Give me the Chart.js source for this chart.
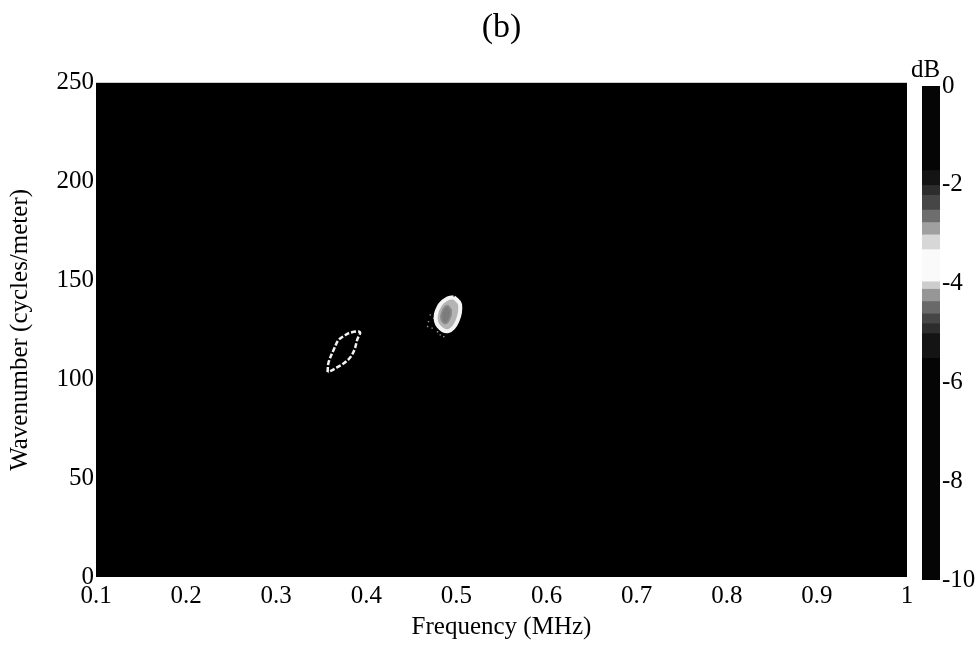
<!DOCTYPE html>
<html>
<head>
<meta charset="utf-8">
<script src="https://cdn.jsdelivr.net/npm/chart.js@4/dist/chart.umd.min.js"></script>
<style>
  body { margin:0; background:#fff; width:980px; height:649px; overflow:hidden; }
  #main { position:absolute; left:0; top:0; }
  #cbar { position:absolute; left:911px; top:0; }
</style>
</head>
<body>
<canvas id="main" width="980" height="649"></canvas>
<canvas id="cbar" width="69" height="649"></canvas>
<script>
// axis ticks
var xTicks = [0.1,0.2,0.3,0.4,0.5,0.6,0.7,0.8,0.9,1];
var yTicks = [0,50,100,150,200,250];
var cbTicks = [0,-2,-4,-6,-8,-10];

// ring near 0.37 MHz (outline)
var ring1Freq = [0.357,0.358,0.364,0.369,0.375,0.382,0.393,0.390,0.387,0.382,0.375,0.367,0.360,0.357];
var ring1Wave = [103.7,108.4,115.2,119.8,121.9,123.6,123.9,120.2,115.2,111.0,108.1,105.9,104.2,103.7];

// spot near 0.49 MHz, outer edge and darker core
var spotFreq = [0.497,0.504,0.501,0.491,0.480,0.477,0.482,0.490,0.497];
var spotWave = [141.6,137.9,129.4,124.4,126.9,132.0,137.9,140.9,141.6];
var coreFreq = [0.490,0.494,0.492,0.487,0.483,0.486,0.490];
var coreWave = [137.4,134.8,130.3,128.3,131.3,135.9,137.4];

// speckles around the spot
var haloFreq = [0.471,0.469,0.475,0.473,0.479,0.482,0.468,0.477,0.503,0.504,0.486,0.480];
var haloWave = [132.6,129.2,130.9,125.9,124.1,122.5,126.7,128.4,135.1,131.7,121.6,137.6];

// colorbar segments (dB edges, grey level)
var cbEdges = [0,-1.7,-2.0,-2.2,-2.5,-2.75,-3.0,-3.3,-3.95,-4.1,-4.35,-4.6,-4.8,-5.0,-5.5,-10];
var cbGray  = [5,20,45,70,110,160,215,250,205,150,105,70,45,20,5];

var serif = "'Liberation Serif','Times New Roman',serif";

function pts(fx, wy){
  var r = [];
  for (var i=0;i<fx.length;i++) r.push({x:fx[i], y:wy[i]});
  return r;
}

var blackArea = {
  id:'blackArea',
  beforeDraw:function(chart){
    var a = chart.chartArea, c = chart.ctx;
    c.save(); c.fillStyle = '#000';
    c.fillRect(a.left, a.top, a.right-a.left, a.bottom-a.top);
    c.restore();
  }
};

new Chart(document.getElementById('main'), {
  type:'scatter',
  data:{
    datasets:[
      { data:pts(coreFreq,coreWave), showLine:true, tension:0.4, borderColor:'#8a8a8a', borderWidth:2,
        backgroundColor:'#7c7c7c', fill:'shape', pointRadius:0 },
      { data:pts(spotFreq,spotWave), showLine:true, tension:0.4, borderColor:'#f4f4f4', borderWidth:4,
        backgroundColor:'#b4b4b4', fill:'shape', pointRadius:0 },
      { data:pts(ring1Freq,ring1Wave), showLine:true, tension:0.35, borderColor:'#f2f2f2', borderWidth:2.5,
        borderDash:[5,2], fill:false, pointRadius:0 },
      { data:pts(haloFreq,haloWave), showLine:false, pointStyle:'rect', pointRadius:1,
        backgroundColor:'#9a9a9a', borderWidth:0 }
    ]
  },
  options:{
    responsive:false, animation:false,
    layout:{ padding:{ left:0, right:73, top:0, bottom:0 } },
    plugins:{
      legend:{ display:false }, tooltip:{ enabled:false },
      title:{ display:true, text:'(b)', fullSize:false, color:'#000',
        font:{ family:serif, size:34, weight:'normal' }, padding:{ top:8, bottom:34 } }
    },
    scales:{
      x:{ type:'linear', min:0.1, max:1,
        grid:{ display:false, drawTicks:false }, border:{ display:false },
        afterBuildTicks:function(s){ s.ticks = xTicks.map(function(v){ return {value:v}; }); },
        afterFit:function(s){ s.height = 72; },
        ticks:{ color:'#000', padding:4, maxRotation:0, autoSkip:false,
          font:{ family:serif, size:25 }, callback:function(v){ return String(+v.toFixed(1)); } },
        title:{ display:true, text:'Frequency (MHz)', color:'#000',
          font:{ family:serif, size:25 }, padding:{ top:0, bottom:7 } }
      },
      y:{ type:'linear', min:0, max:250,
        grid:{ display:false, drawTicks:false }, border:{ display:false },
        afterBuildTicks:function(s){ s.ticks = yTicks.map(function(v){ return {value:v}; }); },
        afterFit:function(s){ s.width = 96; },
        ticks:{ color:'#000', padding:2, autoSkip:false, font:{ family:serif, size:25 } },
        title:{ display:true, text:'Wavenumber (cycles/meter)', color:'#000',
          font:{ family:serif, size:25 }, padding:{ top:5, bottom:0 } }
      }
    }
  },
  plugins:[blackArea]
});

// colorbar
var cbSets = [];
for (var i=0;i<cbGray.length;i++){
  var g = cbGray[i];
  cbSets.push({ data:[[cbEdges[i+1], cbEdges[i]]], backgroundColor:'rgb('+g+','+g+','+g+')',
    borderWidth:0, barPercentage:1, categoryPercentage:1, grouped:false });
}

new Chart(document.getElementById('cbar'), {
  type:'bar',
  data:{ labels:['dB'], datasets:cbSets },
  options:{
    responsive:false, animation:false,
    layout:{ padding:{ left:0, right:0, top:0, bottom:69 } },
    plugins:{
      legend:{ display:false }, tooltip:{ enabled:false },
      title:{ display:true, text:'dB', align:'start', color:'#000',
        font:{ family:serif, size:25, weight:'normal' }, padding:{ top:55, bottom:1 } }
    },
    scales:{
      x:{ display:false },
      gap:{ position:'left', display:true, grid:{ display:false, drawTicks:false },
        border:{ display:false }, ticks:{ display:false },
        afterFit:function(s){ s.width = 11; } },
      y:{ position:'right', min:-10, max:0,
        grid:{ display:false, drawTicks:false }, border:{ display:false },
        afterBuildTicks:function(s){ s.ticks = cbTicks.map(function(v){ return {value:v}; }); },
        afterFit:function(s){ s.width = 40; },
        ticks:{ color:'#000', padding:2, autoSkip:false, font:{ family:serif, size:25 },
          callback:function(v){ return String(v); } }
      }
    }
  }
});
</script>
</body>
</html>
